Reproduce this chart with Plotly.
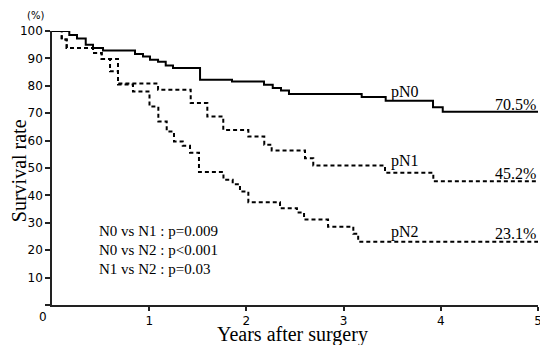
import plotly.graph_objects as go

# Kaplan-Meier step data (years, survival %)
pn0_t = [0, 0.178, 0.257, 0.347, 0.422, 0.525, 0.854, 0.936, 1.008, 1.091, 1.170, 1.245,
         1.523, 1.852, 2.181, 2.271, 2.356, 2.438, 3.186, 3.433, 3.920, 4.020, 5.0]
pn0_s = [100, 98.5, 97.3, 95.0, 93.8, 92.9, 91.6, 90.7, 89.5, 88.8, 87.4, 86.5,
         82.2, 81.6, 80.4, 79.2, 78.3, 77.0, 75.9, 74.5, 72.2, 70.5, 70.5]

pn1_t = [0, 0.100, 0.151, 0.422, 0.511, 0.679, 1.091, 1.427, 1.598, 1.762, 2.020, 2.184,
         2.260, 2.603, 2.688, 3.426, 3.923, 5.0]
pn1_s = [100, 96.9, 93.8, 92.0, 89.8, 80.8, 78.6, 73.7, 68.8, 63.9, 61.5, 58.5,
         56.4, 53.6, 50.9, 48.3, 45.2, 45.2]

pn2_t = [0, 0.100, 0.151, 0.422, 0.511, 0.597, 0.679, 0.833, 1.003, 1.094, 1.180, 1.255,
         1.345, 1.420, 1.512, 1.764, 1.859, 1.934, 2.020, 2.346, 2.520, 2.593, 2.840,
         3.100, 3.150, 5.0]
pn2_s = [100, 96.9, 93.8, 92.0, 89.8, 85.3, 80.5, 77.9, 72.4, 67.0, 63.3, 59.7,
         58.1, 55.6, 48.5, 45.7, 44.1, 41.4, 37.5, 35.3, 33.8, 31.2, 28.6,
         26.0, 23.1, 23.1]

group_names = ["pN0", "pN1", "pN2"]
final_rates = ["70.5%", "45.2%", "23.1%"]
label_x = [3.63, 3.63, 3.63]
label_y = [77.6, 52.4, 26.6]
pct_y = [73.0, 48.0, 26.2]

pvalue_lines = ["N0 vs N1 : p=0.009", "N0 vs N2 : p<0.001", "N1 vs N2 : p=0.03"]
x_ticks = [1, 2, 3, 4, 5]
y_ticks = [0, 10, 20, 30, 40, 50, 60, 70, 80, 90, 100]

serif = "Liberation Serif, Times New Roman, serif"
sans = "DejaVu Sans, Arial, sans-serif"

fig = go.Figure()
fig.add_trace(go.Scatter(x=pn0_t, y=pn0_s, mode="lines", line_shape="hv",
                         line=dict(color="black", width=2), cliponaxis=False))
fig.add_trace(go.Scatter(x=pn1_t, y=pn1_s, mode="lines", line_shape="hv",
                         line=dict(color="black", width=2, dash="4px,3px"), cliponaxis=False))
fig.add_trace(go.Scatter(x=pn2_t, y=pn2_s, mode="lines", line_shape="hv",
                         line=dict(color="black", width=2, dash="4px,3px"), cliponaxis=False))

for name, lx, ly in zip(group_names, label_x, label_y):
    fig.add_annotation(x=lx, y=ly, text=name, showarrow=False, xanchor="center",
                       yanchor="middle", font=dict(family=serif, size=16, color="black"))
for rate, py in zip(final_rates, pct_y):
    fig.add_annotation(x=5.0, y=py, text=rate, showarrow=False, xanchor="right",
                       yanchor="middle", font=dict(family=serif, size=16, color="black"))

for i, txt in enumerate(pvalue_lines):
    fig.add_annotation(x=0.46, y=27.0 - i * 7.0, text=txt, showarrow=False, xanchor="left",
                       yanchor="middle", font=dict(family=serif, size=15, color="black"))

# axis titles and extras
fig.add_annotation(xref="paper", yref="paper", x=0.495, y=-0.058, text="Years after surgery",
                   showarrow=False, xanchor="center", yanchor="top",
                   font=dict(family=serif, size=20, color="black"))
fig.add_annotation(xref="paper", yref="paper", x=-0.069, y=0.49, text="Survival rate",
                   textangle=-90, showarrow=False, xanchor="center", yanchor="middle",
                   font=dict(family=serif, size=20, color="black"))
fig.add_annotation(xref="paper", yref="paper", x=-0.033, y=1.03, text="(%)",
                   showarrow=False, xanchor="center", yanchor="bottom",
                   font=dict(family=sans, size=10, color="black"))
fig.add_annotation(xref="paper", yref="paper", x=-0.018, y=-0.012, text="0",
                   showarrow=False, xanchor="center", yanchor="top",
                   font=dict(family=sans, size=12, color="black"))

fig.update_xaxes(range=[0, 5], tickvals=x_ticks, ticktext=[str(v) for v in x_ticks],
                 ticks="outside", ticklen=4, tickwidth=1.5, tickcolor="#222",
                 showline=True, linecolor="#222", linewidth=1.5, showgrid=False,
                 zeroline=False, ticklabeloverflow="allow", automargin=False,
                 tickfont=dict(family=sans, size=12, color="black"))
fig.update_yaxes(range=[0, 100], tickvals=y_ticks,
                 ticktext=["" if v == 0 else str(v) for v in y_ticks],
                 ticks="outside", ticklen=5, tickwidth=1.5, tickcolor="#222",
                 showline=True, linecolor="#222", linewidth=1.5, showgrid=False,
                 zeroline=False, automargin=False,
                 tickfont=dict(family=sans, size=12, color="black"))

fig.update_layout(width=540, height=345, margin=dict(l=52, r=2, t=31, b=40),
                  plot_bgcolor="white", paper_bgcolor="white", showlegend=False)

fig.write_html("out.html", config={"displayModeBar": False},
               post_script="document.body.style.margin='0';document.body.style.overflow='hidden';")
